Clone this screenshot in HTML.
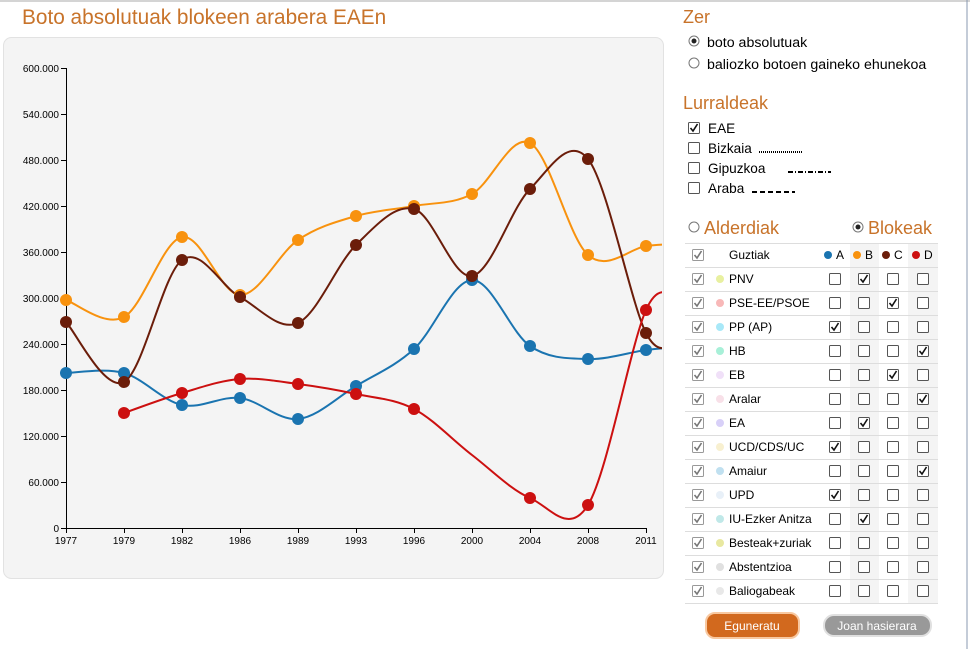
<!DOCTYPE html>
<html><head><meta charset="utf-8"><style>
body{margin:0;width:970px;height:649px;overflow:hidden;background:#fff;font-family:"Liberation Sans",sans-serif}
svg text{font-family:"Liberation Sans",sans-serif}
</style></head><body>
<svg id="s" width="970" height="649" xmlns="http://www.w3.org/2000/svg">
<line x1="0" y1="1" x2="970" y2="1" stroke="#aaa"/>
<line x1="967" y1="0" x2="967" y2="649" stroke="#8898b0"/>
<text x="22" y="24" font-size="20.8" fill="#c8732a">Boto absolutuak blokeen arabera EAEn</text>
<rect x="3.5" y="37.5" width="660" height="541" rx="8" fill="#f4f4f4" stroke="#e2e2e2"/>
<g id="axes" font-size="11" fill="#000"></g>
<g id="lines" fill="none" stroke-width="2"></g>
<g id="dots"></g>
<text x="683" y="23" font-size="18" fill="#c8732a">Zer</text>
<circle cx="694" cy="41" r="5" fill="#fff" stroke="#777"/><circle cx="694" cy="41" r="2.5" fill="#222"/>
<text x="707" y="47" font-size="14.2">boto absolutuak</text>
<circle cx="694" cy="63" r="5" fill="#fff" stroke="#777"/>
<text x="707" y="69" font-size="14.2">baliozko botoen gaineko ehunekoa</text>
<text x="683" y="109" font-size="18" fill="#c8732a">Lurraldeak</text>
<g id="lur" font-size="13.6"></g>
<circle cx="694" cy="227" r="5" fill="#fff" stroke="#777"/>
<text x="704" y="234" font-size="18" fill="#c8732a">Alderdiak</text>
<circle cx="858" cy="227" r="5" fill="#fff" stroke="#777"/><circle cx="858" cy="227" r="2.5" fill="#222"/>
<text x="868" y="234" font-size="18" fill="#c8732a">Blokeak</text>
<rect x="850" y="243" width="29" height="360" fill="#f4f4f4"/>
<rect x="908" y="243" width="30" height="360" fill="#f4f4f4"/>
<g id="tab" font-size="12"></g>
<rect x="706" y="613" width="93" height="25" rx="9" fill="#d2691e" stroke="#f8c8a0" stroke-width="2"/>
<text x="752" y="630" font-size="12" fill="#fff" text-anchor="middle">Eguneratu</text>
<rect x="824" y="615" width="107" height="21" rx="10" fill="#999" stroke="#e0e0e0" stroke-width="2"/>
<text x="877" y="630" font-size="12" fill="#fff" text-anchor="middle">Joan hasierara</text>
</svg>
<script>
const NS="http://www.w3.org/2000/svg";
function el(p,t,a,txt){const e=document.createElementNS(NS,t);for(const k in a)e.setAttribute(k,a[k]);if(txt!=null)e.textContent=txt;document.getElementById(p).appendChild(e);return e;}
el("axes","line",{x1:66.5,y1:68,x2:66.5,y2:528,stroke:"#000"});
el("axes","line",{x1:66,y1:528.5,x2:646,y2:528.5,stroke:"#000"});
for(let i=0;i<=10;i++){const v=i*60000,y=528-i*460/10;
el("axes","line",{x1:61,y1:y+.5,x2:66,y2:y+.5,stroke:"#000"});
el("axes","text",{x:59,y:y+4,"text-anchor":"end","font-size":"10","font-family":"DejaVu Sans"},i==0?"0":(v/1000)+".000");}
const yrs=["1977","1979","1982","1986","1989","1993","1996","2000","2004","2008","2011"];
const X=yrs.map((_,i)=>66+i*58);
yrs.forEach((t,i)=>{el("axes","line",{x1:X[i]+.5,y1:528,x2:X[i]+.5,y2:533,stroke:"#000"});el("axes","text",{x:X[i],y:544,"text-anchor":"middle","font-size":"10","font-family":"DejaVu Sans"},t);});
function cr(pts){let d="M"+pts[0][0]+","+pts[0][1];for(let i=0;i<pts.length-1;i++){const p0=pts[i-1]||pts[i],p1=pts[i],p2=pts[i+1],p3=pts[i+2]||p2;
d+=` C${p1[0]+(p2[0]-p0[0])/6},${p1[1]+(p2[1]-p0[1])/6} ${p2[0]-(p3[0]-p1[0])/6},${p2[1]-(p3[1]-p1[1])/6} ${p2[0]},${p2[1]}`;}return d;}
const S=[
["#1a74b0",[373,373,405,398,419,386,349,280,346,359,350],[0,1,2,3,4,5,6,7,8,9,10],349],
["#f8920e",[300,317,237,295,240,216,206,194,143,255,246],[0,1,2,3,4,5,6,7,8,9,10],246],
["#6b1d0a",[322,382,260,297,323,245,209,276,189,159,333],[0,1,2,3,4,5,6,7,8,9,10],342],
["#cc1010",[413,393,379,384,394,409,455,498,505,310],[1,2,3,4,5,6,7,8,9,10],302]];
S.forEach(([c,ys,xi,end])=>{const pts=ys.map((y,k)=>[X[xi[k]],y]);pts.push([680,end-2]);
el("lines","path",{d:cr(pts),stroke:c,"clip-path":"url(#cp)"});
ys.forEach((y,k)=>{if(c=="#cc1010"&&k==6)return;el("dots","circle",{cx:X[xi[k]],cy:y,r:6,fill:c});});});
const cp=document.createElementNS(NS,"clipPath");cp.id="cp";const r=document.createElementNS(NS,"rect");
r.setAttribute("x",0);r.setAttribute("y",0);r.setAttribute("width",662);r.setAttribute("height",649);cp.appendChild(r);document.getElementById("s").appendChild(cp);
function cb(p,x,y,chk,gray){el(p,"rect",{x:x-5.5,y:y-5.5,width:11,height:11,fill:"#fff",stroke:gray?"#999":"#555",rx:1});
if(chk)el(p,"path",{d:`M${x-3.5},${y} L${x-1},${y+3} L${x+3.5},${y-4}`,stroke:gray?"#777":"#111",fill:"none","stroke-width":1.6});}
[["EAE",true,"",0],["Bizkaia",false,"1,1",759],["Gipuzkoa",false,"5,2,1,2",788],["Araba",false,"5,3",752]].forEach(([t,c,da,x0],i)=>{const y=128+i*20;
cb("lur",694,y,c,false);el("lur","text",{x:708,y:y+5},t);
if(da){el("lur","line",{x1:x0,y1:y+4,x2:x0+43,y2:y+4,stroke:"#000","stroke-width":2,"stroke-dasharray":da});}});
const rows=[["PNV","#e8f0a0",1],["PSE-EE/PSOE","#f8b8b8",2],["PP (AP)","#a8e8f8",0],["HB","#a8f0d8",3],["EB","#f0e0f8",2],["Aralar","#f8e0e8",3],["EA","#d8d0f8",1],["UCD/CDS/UC","#f8f0d0",0],["Amaiur","#c0e0f0",3],["UPD","#e8f0f8",0],["IU-Ezker Anitza","#c0e8e8",1],["Besteak+zuriak","#e8e8a0",-1],["Abstentzioa","#e0e0e0",-1],["Baliogabeak","#e8e8e8",-1]];
const cx=[835,864,893,923];
el("tab","line",{x1:685,y1:243.5,x2:938,y2:243.5,stroke:"#ddd"});
cb("tab",698,255,true,true);el("tab","text",{x:729,y:259},"Guztiak");
[["#1a74b0","A"],["#f8920e","B"],["#6b1d0a","C"],["#cc1010","D"]].forEach(([c,t],i)=>{el("tab","circle",{cx:cx[i]-7,cy:255,r:4,fill:c});el("tab","text",{x:cx[i]+1,y:259},t);});
el("tab","line",{x1:685,y1:267.5,x2:938,y2:267.5,stroke:"#ddd"});
rows.forEach(([n,c,k],i)=>{const y=279+i*24;cb("tab",698,y,true,true);el("tab","circle",{cx:720,cy:y,r:4,fill:c});el("tab","text",{x:729,y:y+4},n);
cx.forEach((x,j)=>cb("tab",x,y,j==k,false));el("tab","line",{x1:685,y1:y+12.5,x2:938,y2:y+12.5,stroke:"#ddd"});});
</script>
</body></html>
